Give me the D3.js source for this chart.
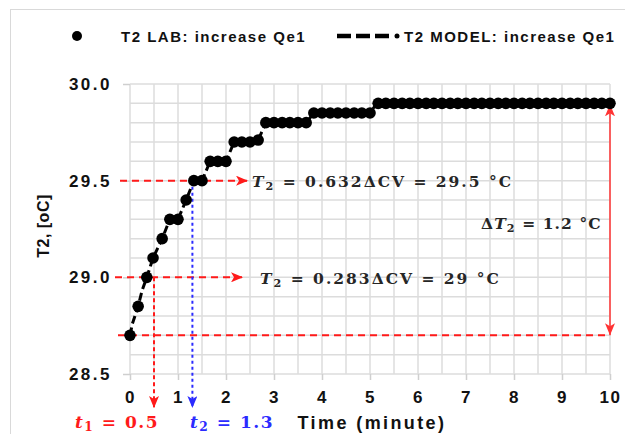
<!DOCTYPE html>
<html>
<head>
<meta charset="utf-8">
<title>T2 step response</title>
<script src="https://cdn.jsdelivr.net/npm/d3@7"></script>
<style>
  body { margin: 0; background: #fff; }
  text { font-family: "Liberation Sans", Arial, sans-serif; font-weight: bold; }
  .math { font-family: "DejaVu Serif", serif; font-weight: bold; }
</style>
</head>
<body>
<div id="chart"></div>
<script>
// time in minutes, lab readings of T2 (oC)
var labTime = [0, 0.17, 0.35, 0.48, 0.67, 0.83, 1.0, 1.17, 1.33, 1.5,
  1.67, 1.83, 2.0, 2.17, 2.33, 2.5, 2.67, 2.83, 3.0, 3.17,
  3.33, 3.5, 3.67, 3.83, 4.0, 4.17, 4.33, 4.5, 4.67, 4.83,
  5.0, 5.17, 5.33, 5.5, 5.67, 5.83, 6.0, 6.17, 6.33, 6.5,
  6.67, 6.83, 7.0, 7.17, 7.33, 7.5, 7.67, 7.83, 8.0, 8.17,
  8.33, 8.5, 8.67, 8.83, 9.0, 9.17, 9.33, 9.5, 9.67, 9.83, 10.0];
var labT2 = [28.7, 28.85, 29.0, 29.1, 29.2, 29.3, 29.3, 29.4, 29.5, 29.5,
  29.6, 29.6, 29.6, 29.7, 29.7, 29.7, 29.71, 29.8, 29.8, 29.8,
  29.8, 29.8, 29.8, 29.85, 29.85, 29.85, 29.85, 29.85, 29.85, 29.85,
  29.85, 29.9, 29.9, 29.9, 29.9, 29.9, 29.9, 29.9, 29.9, 29.9,
  29.9, 29.9, 29.9, 29.9, 29.9, 29.9, 29.9, 29.9, 29.9, 29.9,
  29.9, 29.9, 29.9, 29.9, 29.9, 29.9, 29.9, 29.9, 29.9, 29.9, 29.9];
// model curve (mostly hidden under the lab dots)
var modelTime = [0, 0.05, 0.17, 0.25, 0.35, 0.48, 0.67, 0.83, 1.0, 1.17, 1.33, 1.5,
  1.67, 2.0, 2.17, 2.67, 2.83, 3.67, 3.83, 5.0, 5.17, 10.0];
var modelT2 = [28.7, 28.76, 28.85, 28.93, 29.0, 29.1, 29.2, 29.3, 29.3, 29.4, 29.5, 29.5,
  29.6, 29.6, 29.7, 29.71, 29.8, 29.8, 29.85, 29.85, 29.91, 29.91];

var xTicks = [0, 1, 2, 3, 4, 5, 6, 7, 8, 9, 10];
var yTicks = [28.5, 29.0, 29.5, 30.0];
var legendLabels = ["T2 LAB: increase Qe1", "T2 MODEL: increase Qe1"];

var t1 = 0.5, t2 = 1.3;
var T2start = 28.7, T2end = 29.9, T2at283 = 29.0, T2at632 = 29.5;

var width = 625, height = 434;
var margin = {top: 84, right: 15, bottom: 60, left: 130};

var svg = d3.select("#chart").append("svg")
    .attr("width", width)
    .attr("height", height);

// outer chart frame
svg.append("rect")
    .attr("x", 10.5).attr("y", 9.5)
    .attr("width", 700).attr("height", 500)
    .attr("fill", "none").attr("stroke", "#d9d9d9");

var x = d3.scaleLinear().domain([0, 10]).range([margin.left, width - margin.right]);
var y = d3.scaleLinear().domain([28.5, 30.0]).range([height - margin.bottom, margin.top]);

var defs = svg.append("defs");
function arrowMarker(id, color, orient) {
  defs.append("marker")
      .attr("id", id)
      .attr("viewBox", "0 0 12 10")
      .attr("refX", 12).attr("refY", 5)
      .attr("markerWidth", 12).attr("markerHeight", 10)
      .attr("markerUnits", "userSpaceOnUse")
      .attr("orient", orient || "auto")
    .append("path")
      .attr("d", "M0,0 L12,5 L0,10 L3,5 Z")
      .attr("fill", color);
}
arrowMarker("arrRed", "#ff1a1a");
arrowMarker("arrBlue", "#2b2bff");
arrowMarker("arrRedS", "#ff3333", "auto-start-reverse");

// grid
var g = svg.append("g");
g.selectAll(".vgrid")
    .data(d3.range(0, 10.01, 0.5)).enter()
    .append("line")
    .attr("x1", function(d) { return x(d); })
    .attr("x2", function(d) { return x(d); })
    .attr("y1", y(30.0)).attr("y2", y(28.5))
    .attr("stroke", "#dcdcdc").attr("stroke-width", 1.5);
g.selectAll(".hgrid")
    .data(d3.range(0, 16).map(function(i) { return 28.5 + i * 0.1; })).enter()
    .append("line")
    .attr("x1", x(0)).attr("x2", x(10))
    .attr("y1", function(d) { return y(d); })
    .attr("y2", function(d) { return y(d); })
    .attr("stroke", "#dcdcdc").attr("stroke-width", 1.5);

// axes
var xAxis = svg.append("g")
    .attr("transform", "translate(0," + y(28.5) + ")")
    .call(d3.axisBottom(x).tickValues(xTicks).tickSize(6).tickPadding(11).tickFormat(d3.format("d")));
var yAxis = svg.append("g")
    .attr("transform", "translate(" + x(0) + ",0)")
    .call(d3.axisLeft(y).tickValues(yTicks).tickSize(7).tickPadding(11).tickFormat(d3.format(".1f")));
[xAxis, yAxis].forEach(function(a) {
  a.select(".domain").remove();
  a.selectAll(".tick line").attr("stroke", "#cfcfcf").attr("stroke-width", 1.5);
  a.selectAll(".tick text").attr("fill", "#111").style("font-size", "17px")
    .style("font-family", "'Liberation Sans', Arial, sans-serif").style("font-weight", "bold");
});
yAxis.selectAll(".tick text").style("letter-spacing", "2.5px");
xAxis.selectAll(".tick text").style("letter-spacing", "1.5px");

// axis titles
svg.append("text")
    .attr("x", 372).attr("y", 429)
    .attr("text-anchor", "middle")
    .style("font-size", "18px").style("letter-spacing", "2.4px").attr("fill", "#111")
    .text("Time (minute)");
svg.append("text")
    .attr("transform", "translate(49,226) rotate(-90)")
    .attr("text-anchor", "middle")
    .style("font-size", "16px").style("letter-spacing", "0.5px").attr("fill", "#111")
    .text("T2, [oC]");

// annotation lines
var ann = svg.append("g");
ann.append("line")
    .attr("x1", 120).attr("x2", 248)
    .attr("y1", y(T2at632)).attr("y2", y(T2at632))
    .attr("stroke", "#ff1a1a").attr("stroke-width", 2).attr("stroke-dasharray", "7,5")
    .attr("marker-end", "url(#arrRed)");
ann.append("line")
    .attr("x1", 115).attr("x2", 243)
    .attr("y1", y(T2at283)).attr("y2", y(T2at283))
    .attr("stroke", "#ff1a1a").attr("stroke-width", 2).attr("stroke-dasharray", "7,5")
    .attr("marker-end", "url(#arrRed)");
ann.append("line")
    .attr("x1", 118).attr("x2", x(10))
    .attr("y1", y(T2start)).attr("y2", y(T2start))
    .attr("stroke", "#ff1a1a").attr("stroke-width", 2).attr("stroke-dasharray", "7,5");
ann.append("line")
    .attr("x1", x(t1)).attr("x2", x(t1))
    .attr("y1", y(T2at283)).attr("y2", 408)
    .attr("stroke", "#ff1a1a").attr("stroke-width", 2).attr("stroke-dasharray", "4,3")
    .attr("marker-end", "url(#arrRed)");
ann.append("line")
    .attr("x1", x(t2)).attr("x2", x(t2))
    .attr("y1", y(T2at632)).attr("y2", 408)
    .attr("stroke", "#2b2bff").attr("stroke-width", 2).attr("stroke-dasharray", "3,3")
    .attr("marker-end", "url(#arrBlue)");
ann.append("line")
    .attr("x1", x(10)).attr("x2", x(10))
    .attr("y1", y(T2end) + 1).attr("y2", y(T2start))
    .attr("stroke", "#ff3333").attr("stroke-width", 1.5)
    .attr("marker-start", "url(#arrRedS)")
    .attr("marker-end", "url(#arrRedS)");

// data: lab dots
svg.append("g").selectAll("circle")
    .data(labTime.map(function(t, i) { return [t, labT2[i]]; })).enter()
    .append("circle")
    .attr("cx", function(d) { return x(d[0]); })
    .attr("cy", function(d) { return y(d[1]); })
    .attr("r", 5.8)
    .attr("fill", "#000");

// model dashed line
var line = d3.line()
    .x(function(d) { return x(d[0]); })
    .y(function(d) { return y(d[1]); });
svg.append("path")
    .datum(modelTime.map(function(t, i) { return [t, modelT2[i]]; }))
    .attr("d", line)
    .attr("fill", "none").attr("stroke", "#000")
    .attr("stroke-width", 3).attr("stroke-dasharray", "8,4");

// math labels
function mathLabel(xp, yp, color, parts, size, spacing) {
  var t = svg.append("text").attr("class", "math")
      .attr("x", xp).attr("y", yp).attr("fill", color)
      .style("font-size", size + "px").style("letter-spacing", spacing + "px");
  parts.forEach(function(p) {
    var s = t.append("tspan").text(p.s);
    if (p.it) s.style("font-style", "italic");
    if (p.sub) s.attr("baseline-shift", "-25%").style("font-size", (size * 0.72) + "px");
  });
  return t;
}
mathLabel(252, 187, "#262626", [{s: "T", it: 1}, {s: "2", sub: 1}, {s: " = 0.632ΔCV = 29.5 °C"}], 15.5, 2);
mathLabel(260, 284, "#262626", [{s: "T", it: 1}, {s: "2", sub: 1}, {s: " = 0.283ΔCV = 29 °C"}], 15.5, 2);
mathLabel(481, 229, "#262626", [{s: "Δ"}, {s: "T", it: 1}, {s: "2", sub: 1}, {s: " = 1.2 °C"}], 15.5, 1.1);
mathLabel(75, 428, "#ff1a1a", [{s: "t", it: 1}, {s: "1", sub: 1}, {s: " = 0.5"}], 17, 1.5);
mathLabel(190, 428, "#2b2bff", [{s: "t", it: 1}, {s: "2", sub: 1}, {s: " = 1.3"}], 17, 1.5);

// legend
var leg = svg.append("g");
leg.append("circle").attr("cx", 77).attr("cy", 36).attr("r", 5).attr("fill", "#000");
leg.append("text").attr("x", 121).attr("y", 41.5)
    .style("font-size", "15px").style("letter-spacing", "1.5px").attr("fill", "#111").text(legendLabels[0]);
leg.append("line").attr("x1", 337).attr("x2", 389).attr("y1", 36).attr("y2", 36)
    .attr("stroke", "#000").attr("stroke-width", 4.5).attr("stroke-dasharray", "14,5");
leg.append("circle").attr("cx", 397).attr("cy", 36).attr("r", 2.5).attr("fill", "#000");
leg.append("text").attr("x", 404).attr("y", 41.5)
    .style("font-size", "15px").style("letter-spacing", "1.5px").attr("fill", "#111").text(legendLabels[1]);
</script>
</body>
</html>
